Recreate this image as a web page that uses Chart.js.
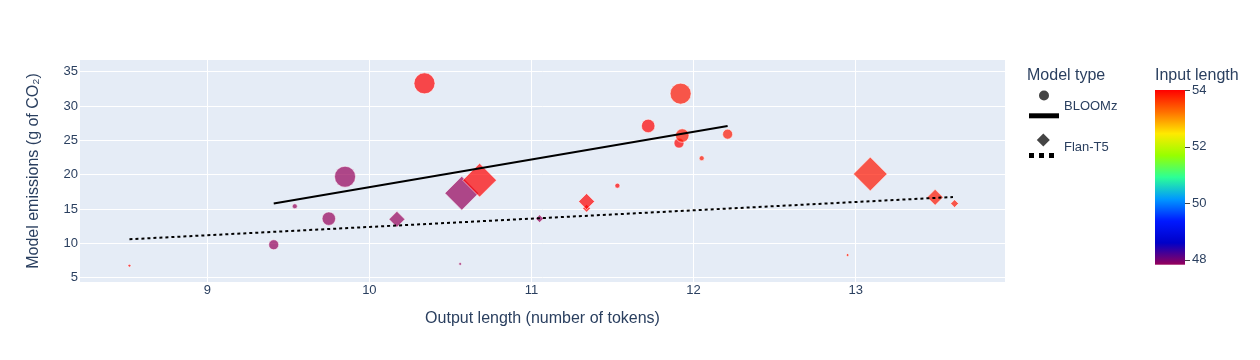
<!DOCTYPE html>
<html>
<head>
<meta charset="utf-8">
<title>Model emissions vs output length</title>
<script src="https://cdn.jsdelivr.net/npm/chart.js@4.4.1/dist/chart.umd.min.js"></script>
<style>
  html, body { margin: 0; padding: 0; background: #fff; }
  canvas { display: block; }
</style>
</head>
<body>
<canvas id="emissionsChart" width="1260" height="360"></canvas>
<script>
// BLOOMz runs: output length, emissions (g CO2), input length, marker size
const bloomOutput    = [9.41, 9.54, 9.75, 9.85, 10.34, 11.53, 11.72, 11.91, 11.92, 11.93, 12.05, 12.21];
const bloomEmissions = [9.8, 15.4, 13.6, 19.7, 33.3, 18.4, 27.1, 24.6, 31.8, 25.7, 22.4, 25.9];
const bloomInput     = [47.83, 47.83, 47.83, 47.83, 54, 54, 54, 54, 53.85, 53.85, 53.85, 53.85];
const bloomSize      = [10, 5, 13.5, 21, 21, 5, 13.5, 10, 21, 13.5, 5, 10];

// Flan-T5 runs
const flanOutput    = [10.56, 11.05, 10.17, 10.57, 8.52, 11.34, 11.34, 10.68, 12.95, 13.61, 13.49, 13.09];
const flanEmissions = [7.0, 13.6, 13.5, 17.3, 6.75, 15.1, 16.1, 19.2, 8.3, 15.8, 16.7, 20.1];
const flanInput     = [47.83, 47.83, 47.83, 47.83, 54, 54, 54, 54, 53.85, 53.85, 53.85, 53.85];
const flanSize      = [2.5, 6, 12.3, 26, 2.5, 6, 12.3, 26, 2.5, 6, 12.3, 26];

// OLS trendlines per model type (end points)
const bloomTrendX = [9.41, 12.21];
const bloomTrendY = [15.8, 27.1];
const flanTrendX  = [8.52, 13.60];
const flanTrendY  = [10.6, 16.75];

const xTicks = [9, 10, 11, 12, 13];
const yTicks = [5, 10, 15, 20, 25, 30, 35];
const colorTicks = [48, 50, 52, 54];
const colorMin = 47.83;
const colorMax = 54;

// plotly "Rainbow" colour scale
const rainbowPos = [0, 0.125, 0.25, 0.375, 0.5, 0.625, 0.75, 0.875, 1];
const rainbowRGB = [[150,0,90],[0,0,200],[0,25,255],[0,152,255],[44,255,150],[151,255,0],[255,234,0],[255,111,0],[255,0,0]];

const FONT = '"Liberation Sans", Arial, sans-serif';
const TEXT = '#2a3f5f';

function colorAt(v, alpha) {
    let t = (v - colorMin) / (colorMax - colorMin);
    t = Math.max(0, Math.min(1, t));
    let i = 0;
    while (i < rainbowPos.length - 2 && t > rainbowPos[i + 1]) i++;
    const f = (t - rainbowPos[i]) / (rainbowPos[i + 1] - rainbowPos[i]);
    const a = rainbowRGB[i], b = rainbowRGB[i + 1];
    const c = a.map((ch, k) => Math.round(ch + (b[k] - ch) * f));
    return `rgba(${c[0]},${c[1]},${c[2]},${alpha})`;
}

const plotBackground = {
    id: 'plotBackground',
    beforeDraw(chart) {
        const { ctx, chartArea: a } = chart;
        ctx.save();
        ctx.fillStyle = '#E5ECF6';
        ctx.fillRect(a.left, a.top, a.right - a.left, a.bottom - a.top);
        ctx.restore();
    }
};

// legend for symbols + colorbar, drawn to the right of the plot
const sideLegend = {
    id: 'sideLegend',
    afterDraw(chart) {
        const ctx = chart.ctx;
        ctx.save();
        ctx.fillStyle = TEXT;
        ctx.textBaseline = 'alphabetic';
        ctx.font = `16px ${FONT}`;
        ctx.fillText('Model type', 1027, 80);
        ctx.fillText('Input length', 1155, 80);

        ctx.font = `13px ${FONT}`;
        ctx.fillText('BLOOMz', 1064, 110);
        ctx.fillText('Flan-T5', 1064, 150.5);

        // BLOOMz symbol
        ctx.fillStyle = '#444';
        ctx.beginPath();
        ctx.arc(1044, 95.5, 5, 0, Math.PI * 2);
        ctx.fill();
        ctx.strokeStyle = '#000';
        ctx.lineWidth = 5;
        ctx.beginPath();
        ctx.moveTo(1029, 115.8);
        ctx.lineTo(1059, 115.8);
        ctx.stroke();

        // Flan-T5 symbol
        ctx.beginPath();
        ctx.moveTo(1043.3, 133.5);
        ctx.lineTo(1049.8, 140);
        ctx.lineTo(1043.3, 146.5);
        ctx.lineTo(1036.8, 140);
        ctx.closePath();
        ctx.fill();
        ctx.setLineDash([5, 5]);
        ctx.beginPath();
        ctx.moveTo(1029, 155.5);
        ctx.lineTo(1059, 155.5);
        ctx.stroke();
        ctx.setLineDash([]);

        // colorbar
        const barTop = 90, barBottom = 264.7, barLeft = 1155, barRight = 1185;
        const grad = ctx.createLinearGradient(0, barBottom, 0, barTop);
        rainbowPos.forEach((p, i) => grad.addColorStop(p, colorAt(colorMin + p * (colorMax - colorMin), 1)));
        ctx.fillStyle = grad;
        ctx.fillRect(barLeft, barTop, barRight - barLeft, barBottom - barTop);

        ctx.strokeStyle = '#444';
        ctx.lineWidth = 1;
        ctx.font = `13px ${FONT}`;
        ctx.textBaseline = 'middle';
        colorTicks.forEach(v => {
            const y = barBottom - (v - colorMin) / (colorMax - colorMin) * (barBottom - barTop);
            ctx.beginPath();
            ctx.moveTo(barRight, Math.round(y) + 0.5);
            ctx.lineTo(barRight + 5, Math.round(y) + 0.5);
            ctx.stroke();
            ctx.fillStyle = TEXT;
            ctx.fillText(String(v), barRight + 7, y);
        });
        ctx.restore();
    }
};

document.addEventListener('DOMContentLoaded', function() {
    const bloomPoints = bloomOutput.map((x, i) => ({ x: x, y: bloomEmissions[i] }));
    const flanPoints = flanOutput.map((x, i) => ({ x: x, y: flanEmissions[i] }));
    const bloomTrend = bloomTrendX.map((x, i) => ({ x: x, y: bloomTrendY[i] }));
    const flanTrend = flanTrendX.map((x, i) => ({ x: x, y: flanTrendY[i] }));

    const ctx = document.getElementById('emissionsChart').getContext('2d');
    new Chart(ctx, {
        type: 'scatter',
        data: {
            datasets: [
                {
                    label: 'BLOOMz trend',
                    data: bloomTrend,
                    showLine: true,
                    borderColor: '#000',
                    borderWidth: 2,
                    pointRadius: 0,
                    order: 0
                },
                {
                    label: 'Flan-T5 trend',
                    data: flanTrend,
                    showLine: true,
                    borderColor: '#000',
                    borderWidth: 2,
                    borderDash: [3, 3],
                    pointRadius: 0,
                    order: 0
                },
                {
                    label: 'Flan-T5',
                    data: flanPoints,
                    pointStyle: 'rectRot',
                    pointRadius: c => flanSize[c.dataIndex] * 1.3 / 2,
                    backgroundColor: c => colorAt(flanInput[c.dataIndex], 0.7),
                    borderColor: 'rgba(255,255,255,0.7)',
                    borderWidth: 0.8,
                    order: 1
                },
                {
                    label: 'BLOOMz',
                    data: bloomPoints,
                    pointStyle: 'circle',
                    pointRadius: c => bloomSize[c.dataIndex] / 2,
                    backgroundColor: c => colorAt(bloomInput[c.dataIndex], 0.7),
                    borderColor: 'rgba(255,255,255,0.7)',
                    borderWidth: 0.8,
                    order: 1
                }
            ]
        },
        options: {
            responsive: false,
            animation: false,
            events: [],
            layout: { padding: { top: 60, right: 255, bottom: 0, left: 0 } },
            plugins: {
                legend: { display: false },
                tooltip: { enabled: false }
            },
            scales: {
                x: {
                    type: 'linear',
                    min: 8.215,
                    max: 13.921,
                    afterBuildTicks: s => { s.ticks = xTicks.map(v => ({ value: v })); },
                    afterFit: s => { s.height = 78; },
                    grid: { color: '#fff', lineWidth: 1, drawTicks: false },
                    border: { display: false },
                    ticks: { color: TEXT, font: { family: FONT, size: 13 }, padding: 1, maxRotation: 0 },
                    title: {
                        display: true,
                        text: 'Output length (number of tokens)',
                        color: TEXT,
                        font: { family: FONT, size: 16 },
                        padding: { top: 0, bottom: 32 }
                    }
                },
                y: {
                    type: 'linear',
                    min: 4.374,
                    max: 36.70,
                    afterBuildTicks: s => { s.ticks = yTicks.map(v => ({ value: v })); },
                    afterFit: s => { s.width = 80; },
                    grid: { color: '#fff', lineWidth: 1, drawTicks: false },
                    border: { display: false },
                    ticks: { color: TEXT, font: { family: FONT, size: 13 }, padding: 2 },
                    title: {
                        display: true,
                        text: 'Model emissions (g of CO₂)',
                        color: TEXT,
                        font: { family: FONT, size: 16 },
                        padding: { top: 24, bottom: 0 }
                    }
                }
            }
        },
        plugins: [plotBackground, sideLegend]
    });
});
</script>
</body>
</html>
